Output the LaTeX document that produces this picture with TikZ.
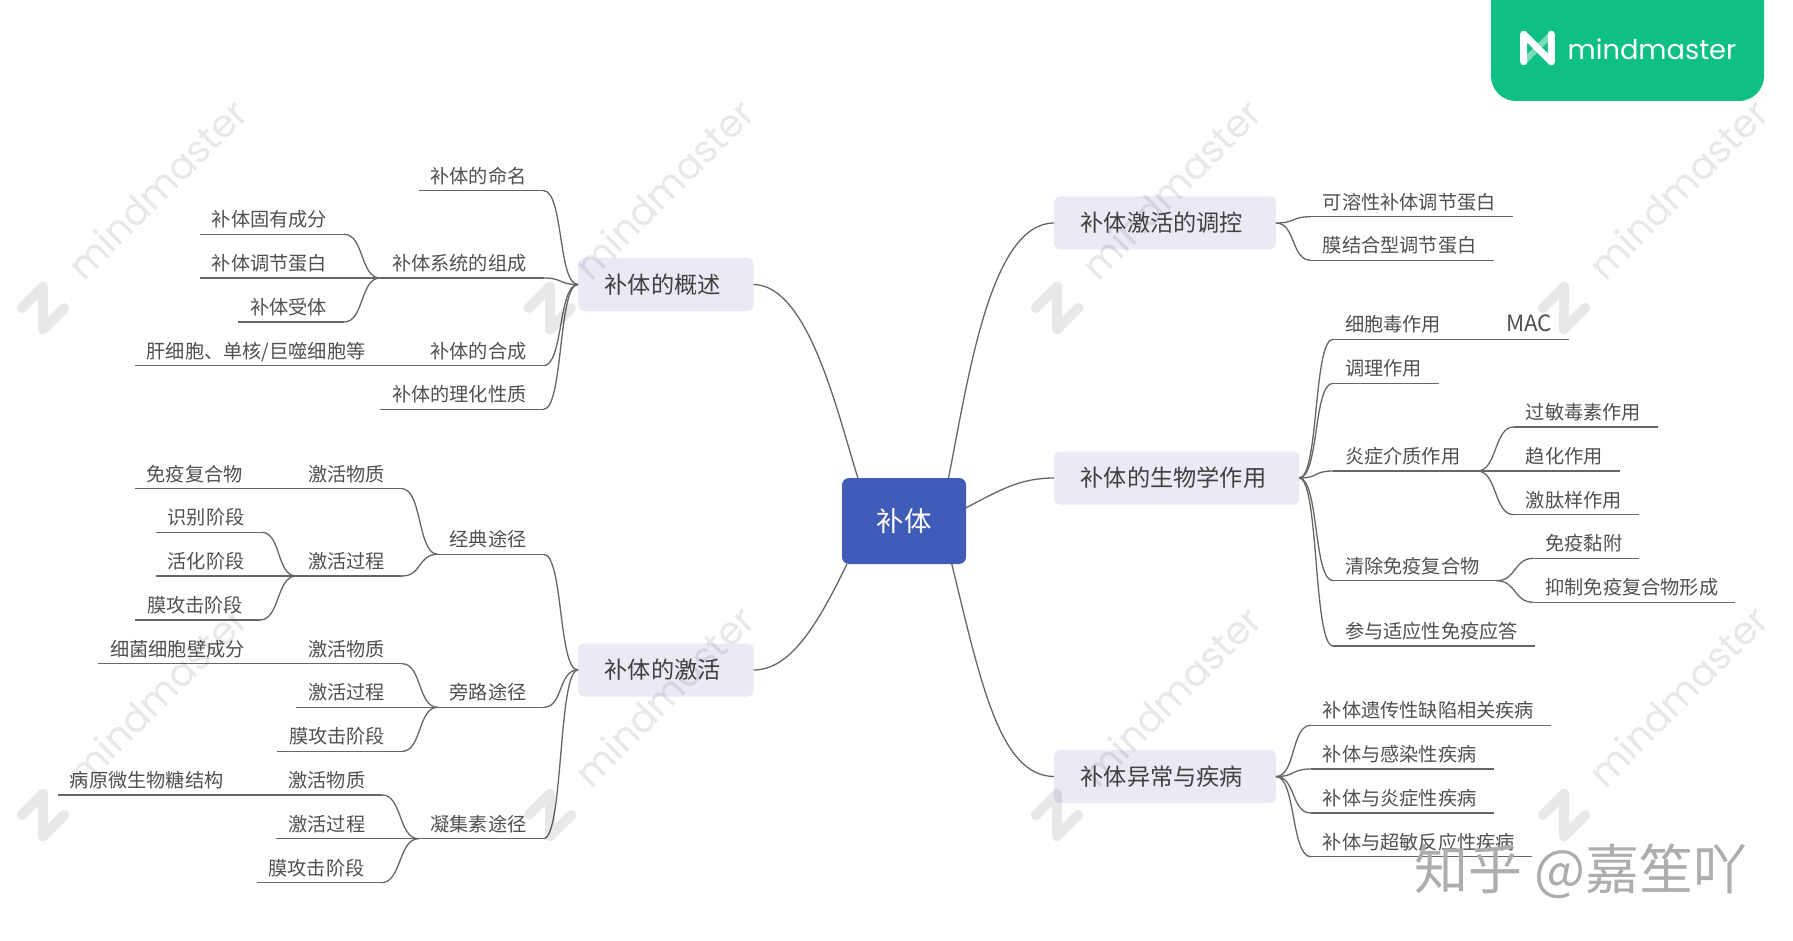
\documentclass[tikz,border=0pt]{standalone}
\usepackage{xcolor}
\usepackage{fontspec}
\setmainfont{Noto Sans CJK SC}
\newfontfamily\markfont{Poppins}
\usepackage{tikz}
\usetikzlibrary{arrows.meta, positioning, shapes.geometric}

\definecolor{rootblue}{HTML}{405CB9}
\definecolor{hubgrey}{HTML}{E9EAF3}
\definecolor{linegrey}{HTML}{666666}
\definecolor{textgrey}{HTML}{505050}
\definecolor{mmgreen}{HTML}{0EBF86}

\tikzset{
    link/.style={draw=linegrey, line width=1.3pt},
    branch/.style={to path={.. controls +(20pt,0pt) and +(-20pt,0pt) .. (\tikztotarget)}},
    root/.style={rectangle, fill=rootblue, rounded corners=7pt, text=white, minimum width=124pt, minimum height=86pt,
        outer sep=0pt, font=\fontsize{27.4pt}{32pt}\selectfont},
    hub/.style={rectangle, fill=hubgrey, rounded corners=6pt, text=black!75, minimum height=53pt, inner xsep=29.75pt,
        inner ysep=0pt, outer sep=0pt, font=\fontsize{23.2pt}{28pt}\selectfont,
        execute at begin node={\hspace{-3pt}}, execute at end node={\hspace{3pt}}},
    topic/.style={rectangle, text=textgrey, inner sep=0pt, outer sep=0pt, minimum height=30pt, text height=18.2pt, text depth=3pt,
        font=\fontsize{19.2pt}{23pt}\selectfont,
        execute at begin node={\hspace{12pt}}, execute at end node={\hspace{17pt}},
        append after command={(\tikzlastnode.south west) edge[link] (\tikzlastnode.south east)}},
    mmword/.style={inner sep=0pt, font=\markfont\fontsize{#1}{#1}\selectfont},
    stamp/.style={mmword=38pt, text=black, opacity=0.09, rotate=45},
    stamplogo/.style={draw=black, opacity=0.09, line width=10pt, scale=1.25, rotate=-45},
    mmlogo/.pic={
        \draw[pic actions, line cap=round, line join=round] (-12,12) -- (-12,-12) -- (12,12) -- (12,-12);
    },
    mmstub/.pic={
        \draw[pic actions, line cap=round] (12,-12) -- (-12,12);
    }
}

\begin{document}
\begin{tikzpicture}[x=1pt, y=-1pt, thick, >=Stealth]
    \useasboundingbox[fill=white] (0,0) rectangle (1793,941);

    \fill[mmgreen, rounded corners=25pt] (1491,-40) rectangle (1764,101);
    \pic[draw=mmgreen!55!white, line width=6pt, scale=1.15] (badgestub) at (1537.5,48) {mmstub};
    \pic[draw=white, line width=7pt, scale=1.15] (badgelogo) at (1537.5,48) {mmlogo};
    \node[mmword=27.3pt, text=white] (badgeword) at (1652,49) {mindmaster};

    \node[root] (root) at (904,521) {补体};

    \node[hub, above left=167pt and 88.5pt of root] (over) {补体的概述};
    \node[hub, below left=79.5pt and 88.5pt of root] (act) {补体的激活};
    \node[hub, above right=228.5pt and 88pt of root] (reg) {补体激活的调控};
    \node[hub, above right=-26.5pt and 88pt of root] (bio) {补体的生物学作用};
    \node[hub, below right=186pt and 88pt of root] (dis) {补体异常与疾病};

    \node[topic, above left=67.3pt and 34.5pt of over] (naming) {补体的命名};
    \node[topic, above left=-20pt and 34.5pt of over] (sys) {补体系统的组成};
    \node[topic, below left=24.7pt and 34.5pt of over] (synth) {补体的合成};
    \node[topic, below left=68.3pt and 34.5pt of over] (phys) {补体的理化性质};
    \node[topic, above left=13.7pt and 36pt of sys] (inherent) {补体固有成分};
    \node[topic, left=36pt of sys] (regprot) {补体调节蛋白};
    \node[topic, below left=14pt and 36pt of sys] (recept) {补体受体};
    \node[topic, left=36pt of synth] (liver) {肝细胞、单核/巨噬细胞等};

    \node[topic, above left=89.2pt and 34.5pt of act] (classic) {经典途径};
    \node[topic, above left=-63.8pt and 34.5pt of act] (alt) {旁路途径};
    \node[topic, below left=112.2pt and 34.5pt of act] (lectin) {凝集素途径};
    \node[topic, above left=35.6pt and 35.7pt of classic] (csub) {激活物质};
    \node[topic, below left=-8.3pt and 35.7pt of classic] (cproc) {激活过程};
    \node[topic, left=36.5pt of csub] (immune) {免疫复合物};
    \node[topic, above left=13.7pt and 34.7pt of cproc] (recog) {识别阶段};
    \node[topic, left=34.7pt of cproc] (activ) {活化阶段};
    \node[topic, below left=14pt and 36.2pt of cproc] (cattack) {膜攻击阶段};
    \node[topic, above left=13.6pt and 35.7pt of alt] (asub) {激活物质};
    \node[topic, left=35.7pt of alt] (aproc) {激活过程};
    \node[topic, below left=14pt and 35.7pt of alt] (aattack) {膜攻击阶段};
    \node[topic, left=34.5pt of asub] (bact) {细菌细胞壁成分};
    \node[topic, above left=13.7pt and 36.3pt of lectin] (lsub) {激活物质};
    \node[topic, left=36.3pt of lectin] (lproc) {激活过程};
    \node[topic, below left=14pt and 37pt of lectin] (lattack) {膜攻击阶段};
    \node[topic, left=36pt of lsub] (patho) {病原微生物糖结构};

    \node[topic, above right=-20.2pt and 35pt of reg] (soluble) {可溶性补体调节蛋白};
    \node[topic, above right=-63.8pt and 35pt of reg] (membr) {膜结合型调节蛋白};

    \node[topic, above right=112.2pt and 34pt of bio] (cyto) {细胞毒作用};
    \node[topic, above right=68.2pt and 34pt of bio] (opson) {调理作用};
    \node[topic, above right=-19.5pt and 34pt of bio] (inflam) {炎症介质作用};
    \node[topic, below right=46.2pt and 34pt of bio] (clear) {清除免疫复合物};
    \node[topic, below right=111.5pt and 34pt of bio] (adapt) {参与适应性免疫应答};
    \node[topic, right=36pt of cyto, font=\fontsize{22.4pt}{23pt}\selectfont] (mac) {MAC};
    \node[topic, above right=14pt and 36.5pt of inflam] (anaph) {过敏毒素作用};
    \node[topic, right=36.5pt of inflam] (chemo) {趋化作用};
    \node[topic, below right=13.7pt and 36.5pt of inflam] (kinin) {激肽样作用};
    \node[topic, above right=-7.6pt and 37pt of clear] (adher) {免疫黏附};
    \node[topic, below right=-8.4pt and 37pt of clear] (inhib) {抑制免疫复合物形成};

    \node[topic, above right=24.7pt and 35pt of dis] (gene) {补体遗传性缺陷相关疾病};
    \node[topic, above right=-19pt and 35pt of dis] (infect) {补体与感染性疾病};
    \node[topic, below right=-20pt and 35pt of dis] (inflamd) {补体与炎症性疾病};
    \node[topic, below right=23.7pt and 35pt of dis] (hyper) {补体与超敏反应性疾病};

    \draw[link] (over.east) .. controls (808,285) and (837,411) .. (root.137.7);
    \draw[link] (act.east) .. controls (790,670) and (817,626) .. (root.217);
    \draw[link] (root.44.3) .. controls (968,380) and (990,223) .. (reg.west);
    \draw[link] (root.12.7) .. controls (1000,490) and (1020,478) .. (bio.west);
    \draw[link] (root.-42.6) .. controls (981,684) and (1000,776) .. (dis.west);

    \draw[link] (naming.south east) to[branch] (over.west);
    \draw[link] (sys.south east) to[branch] (over.west);
    \draw[link] (synth.south east) to[branch] (over.west);
    \draw[link] (phys.south east) to[branch] (over.west);
    \draw[link] (inherent.south east) to[branch] (sys.south west);
    \draw[link] (regprot.south east) -- (sys.south west);
    \draw[link] (recept.south east) to[branch] (sys.south west);
    \draw[link] (liver.south east) -- (synth.south west);

    \draw[link] (classic.south east) to[branch] (act.west);
    \draw[link] (alt.south east) to[branch] (act.west);
    \draw[link] (lectin.south east) to[branch] (act.west);
    \draw[link] (csub.south east) to[branch] (classic.south west);
    \draw[link] (cproc.south east) to[branch] (classic.south west);
    \draw[link] (immune.south east) -- (csub.south west);
    \draw[link] (recog.south east) to[branch] (cproc.south west);
    \draw[link] (activ.south east) -- (cproc.south west);
    \draw[link] (cattack.south east) to[branch] (cproc.south west);
    \draw[link] (asub.south east) to[branch] (alt.south west);
    \draw[link] (aproc.south east) -- (alt.south west);
    \draw[link] (aattack.south east) to[branch] (alt.south west);
    \draw[link] (bact.south east) -- (asub.south west);
    \draw[link] (lsub.south east) to[branch] (lectin.south west);
    \draw[link] (lproc.south east) -- (lectin.south west);
    \draw[link] (lattack.south east) to[branch] (lectin.south west);
    \draw[link] (patho.south east) -- (lsub.south west);

    \draw[link] (reg.east) to[branch] (soluble.south west);
    \draw[link] (reg.east) to[branch] (membr.south west);

    \draw[link] (bio.east) to[branch] (cyto.south west);
    \draw[link] (bio.east) to[branch] (opson.south west);
    \draw[link] (bio.east) to[branch] (inflam.south west);
    \draw[link] (bio.east) to[branch] (clear.south west);
    \draw[link] (bio.east) to[branch] (adapt.south west);
    \draw[link] (cyto.south east) -- (mac.south west);
    \draw[link] (inflam.south east) to[branch] (anaph.south west);
    \draw[link] (inflam.south east) -- (chemo.south west);
    \draw[link] (inflam.south east) to[branch] (kinin.south west);
    \draw[link] (clear.south east) to[branch] (adher.south west);
    \draw[link] (clear.south east) to[branch] (inhib.south west);

    \draw[link] (dis.east) to[branch] (gene.south west);
    \draw[link] (dis.east) to[branch] (infect.south west);
    \draw[link] (dis.east) to[branch] (inflamd.south west);
    \draw[link] (dis.east) to[branch] (hyper.south west);

    \node[stamp] (stampa) at (157,189) {mindmaster};
    \node[stamp] (stampb) at (664,189) {mindmaster};
    \node[stamp] (stampc) at (1171,189) {mindmaster};
    \node[stamp] (stampd) at (1678,189) {mindmaster};
    \node[stamp] (stampe) at (157,696) {mindmaster};
    \node[stamp] (stampf) at (664,696) {mindmaster};
    \node[stamp] (stampg) at (1171,696) {mindmaster};
    \node[stamp] (stamph) at (1678,696) {mindmaster};

    \pic[stamplogo] (marka) at (43,308) {mmlogo};
    \pic[stamplogo] (markb) at (550,308) {mmlogo};
    \pic[stamplogo] (markc) at (1057,308) {mmlogo};
    \pic[stamplogo] (markd) at (1564,308) {mmlogo};
    \pic[stamplogo] (marke) at (43,815) {mmlogo};
    \pic[stamplogo] (markf) at (550,815) {mmlogo};
    \pic[stamplogo] (markg) at (1057,815) {mmlogo};
    \pic[stamplogo] (markh) at (1564,815) {mmlogo};

    \node[text=black!32, inner sep=0pt, font=\fontsize{54pt}{60pt}\selectfont] (zhihu) at (1581,871) {知乎 @嘉笙吖};
\end{tikzpicture}
\end{document}
